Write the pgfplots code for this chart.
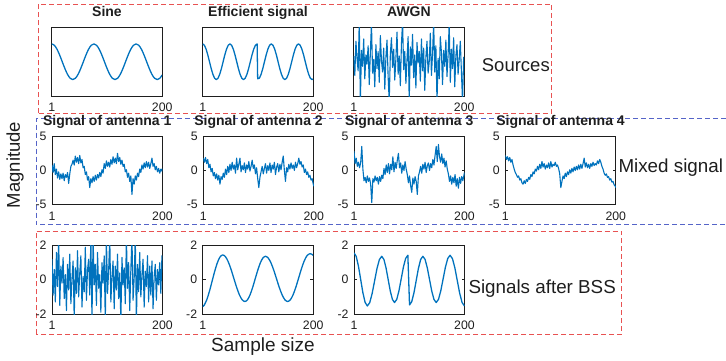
\documentclass[border=0pt]{standalone}
\usepackage{fontspec}
\setmainfont{Liberation Sans}
\usepackage{pgfplots}
\pgfplotsset{compat=1.18}
\definecolor{mblue}{RGB}{0,114,189}
\definecolor{tgray}{RGB}{30,30,30}
\definecolor{boxred}{RGB}{232,82,82}
\definecolor{boxblue}{RGB}{85,100,200}
\pgfplotsset{
  sub/.style={
    width=110.5pt, height=68.5pt, scale only axis,
    xmin=1, xmax=200, xtick={1,200},
    tick align=inside, major tick length=3pt,
    axis line style={tgray, line width=1pt},
    tick style={tgray, line width=0.9pt},
    every tick label/.append style={font=\fontsize{12.3}{12}\selectfont, text=tgray},
    xticklabel style={yshift=-3.5pt},
    yticklabel style={xshift=-2pt},
    /pgf/number format/assume math mode=true,
    title style={at={(0.5,1)}, anchor=base, yshift=5pt, font=\bfseries\fontsize{14}{14}\selectfont, text=tgray},
  },
  row1/.style={sub, ymin=-1.92, ymax=1.92, ytick=\empty},
  row2/.style={sub, ymin=-5, ymax=5, ytick={-5,0,5}},
  row3/.style={sub, ymin=-2, ymax=2, ytick={-2,0,2}},
  sig/.style={mblue, line width=1.3pt, mark=none, line join=round},
  nsig/.style={mblue, line width=1.1pt, mark=none, line join=round},
}
\begin{document}
\begin{tikzpicture}
\useasboundingbox (0,0) rectangle (726pt,360pt);
% dashed group boxes
\draw[boxred, line width=0.9pt, dash pattern=on 5pt off 3pt] (38.3pt,246.7pt) rectangle (551.7pt,356pt);
\draw[boxblue, line width=0.9pt, dash pattern=on 5pt off 3pt] (725.6pt,241.7pt) -- (36pt,241.7pt) -- (36pt,135.7pt) -- (725.6pt,135.7pt);
\draw[boxred, line width=0.9pt, dash pattern=on 5pt off 3pt] (36pt,25.7pt) rectangle (621.7pt,129pt);

% ---------- Row 1: sources ----------
\begin{axis}[row1, at={(51.7pt,264pt)}, anchor=south west, title={Sine}]
\addplot[sig, smooth] coordinates {(1,1) (5.75,0.924) (10.5,0.707) (15.25,0.383) (20,0) (24.75,-0.383) (29.5,-0.707) (34.25,-0.924) (39,-1) (43.75,-0.924) (48.5,-0.707) (53.25,-0.383) (58,0) (62.75,0.383) (67.5,0.707) (72.25,0.924) (77,1) (81.75,0.924) (86.5,0.707) (91.25,0.383) (96,0) (100.75,-0.383) (105.5,-0.707) (110.25,-0.924) (115,-1) (119.75,-0.924) (124.5,-0.707) (129.25,-0.383) (134,0) (138.75,0.383) (143.5,0.707) (148.25,0.924) (153,1) (157.75,0.924) (162.5,0.707) (167.25,0.383) (172,0) (176.75,-0.383) (181.5,-0.707) (186.25,-0.924) (191,-1) (195.75,-0.924) (200,-0.736)};
\end{axis}
\begin{axis}[row1, at={(202.7pt,264pt)}, anchor=south west, title={Efficient signal}]
\addplot[sig] coordinates {(1,1) (4.06,0.924) (7.13,0.707) (10.19,0.383) (13.25,0) (16.31,-0.383) (19.38,-0.707) (22.44,-0.924) (25.5,-1) (28.56,-0.924) (31.63,-0.707) (34.69,-0.383) (37.75,0) (40.81,0.383) (43.88,0.707) (46.94,0.924) (50,1) (53.06,0.924) (56.13,0.707) (59.19,0.383) (62.25,0) (65.31,-0.383) (68.38,-0.707) (71.44,-0.924) (74.5,-1) (77.56,-0.924) (80.63,-0.707) (83.69,-0.383) (86.75,0) (89.81,0.383) (92.88,0.707) (95.94,0.924) (99,1) (100,-0.95) (103.06,-0.924) (106.13,-0.707) (109.19,-0.383) (112.25,0) (115.31,0.383) (118.38,0.707) (121.44,0.924) (124.5,1) (127.56,0.924) (130.63,0.707) (133.69,0.383) (136.75,0) (139.81,-0.383) (142.88,-0.707) (145.94,-0.924) (149,-1) (152.06,-0.924) (155.13,-0.707) (158.19,-0.383) (161.25,0) (164.31,0.383) (167.38,0.707) (170.44,0.924) (173.5,1) (176.56,0.924) (179.63,0.707) (182.69,0.383) (185.75,0) (188.81,-0.383) (191.88,-0.707) (194.94,-0.924) (198,-1) (200,-0.967)};
\end{axis}
\begin{axis}[row1, at={(353.7pt,264pt)}, anchor=south west, title={AWGN}, ymin=-3, ymax=3]
\addplot[nsig] coordinates {(1,0.5) (3,-1.2) (5,1.8) (7,0.3) (9,-0.8) (11,3.5) (13,-3.5) (15,1.0) (17,-0.4) (19,2.0) (21,-1.5) (23,0.6) (25,-0.2) (27,1.4) (29,-2.0) (31,0.8) (33,3.4) (35,-1.0) (37,0.2) (39,-2.2) (41,1.5) (43,-0.6) (45,0.9) (47,-1.8) (49,2.3) (51,0.1) (53,-0.9) (55,1.2) (57,-2.4) (59,0.4) (61,1.9) (63,-1.3) (65,-3.5) (67,0.7) (69,2.1) (71,-0.5) (73,1.1) (75,-1.6) (77,0.3) (79,2.6) (81,-1.1) (83,0.5) (85,-2.1) (87,1.6) (89,3.5) (91,-0.7) (93,0.9) (95,-1.9) (97,0.2) (99,2.2) (101,-3.5) (103,1.3) (105,-0.3) (107,2.4) (109,-1.4) (111,0.6) (113,-2.3) (115,1.7) (117,-0.1) (119,0.9) (121,-1.7) (123,2.0) (125,-0.8) (127,1.2) (129,-2.5) (131,0.4) (133,1.8) (135,-1.0) (137,0.0) (139,2.5) (141,-1.2) (143,0.7) (145,3.5) (147,-0.9) (149,1.4) (151,-3.5) (153,0.3) (155,-1.5) (157,2.2) (159,0.8) (161,-2.0) (163,1.0) (165,-0.4) (167,1.9) (169,-1.3) (171,0.6) (173,3.4) (175,-1.8) (177,1.1) (179,-0.6) (181,2.1) (183,-2.2) (185,0.5) (187,1.5) (189,-1.1) (191,0.2) (193,1.8) (195,-0.9) (197,-3.5) (199,0.4) (200,-1.0)};
\end{axis}

% ---------- Row 2: mixed signals ----------
\begin{axis}[row2, at={(52pt,155.3pt)}, anchor=south west, title={Signal of antenna 1}]
\addplot[nsig] coordinates {(1,0.8) (3,-0.3) (5,1.0) (7,-0.6) (9,0.2) (11,-1.1) (13,-0.2) (15,-1.3) (17,-0.5) (19,-1.2) (21,-0.4) (23,-1.5) (25,-0.6) (27,-1.0) (29,-0.3) (31,-1.9) (33,-0.5) (35,0.6) (37,0.9) (39,1.5) (41,0.8) (43,2.1) (45,1.2) (47,1.9) (49,1.0) (51,2.2) (53,1.1) (55,1.6) (57,0.4) (59,0.6) (61,-0.6) (63,-0.2) (65,-1.4) (67,-0.9) (69,-2.5) (71,-1.2) (73,-1.8) (75,-0.9) (77,-1.6) (79,-0.7) (81,-1.4) (83,-0.6) (85,-1.1) (87,-0.3) (89,-0.9) (91,0.1) (93,-0.4) (95,1.0) (97,0.3) (99,1.4) (101,0.6) (103,1.2) (105,0.5) (107,1.6) (109,0.9) (111,2.0) (113,1.1) (115,1.8) (117,1.0) (119,2.5) (121,1.3) (123,1.9) (125,0.9) (127,1.5) (129,0.6) (131,0.9) (133,-0.2) (135,0.1) (137,-1.0) (139,-0.4) (141,-1.6) (143,-0.8) (145,-3.5) (147,-1.2) (149,-2.0) (151,-0.8) (153,-1.4) (155,-0.4) (157,-0.9) (159,0.2) (161,-0.3) (163,0.8) (165,0.2) (167,1.1) (169,0.4) (171,1.3) (173,0.5) (175,1.2) (177,0.3) (179,1.0) (181,1.8) (183,0.6) (185,1.0) (187,0.1) (189,0.6) (191,-0.2) (193,0.3) (195,-0.4) (197,0.2) (199,-0.1) (200,0.3)};
\end{axis}
\begin{axis}[row2, at={(203.3pt,155.3pt)}, anchor=south west, title={Signal of antenna 2}]
\addplot[nsig] coordinates {(1,1.8) (3,1.2) (5,1.9) (7,1.0) (9,1.6) (11,0.4) (13,0.9) (15,-0.2) (17,0.3) (19,-0.8) (21,-0.3) (23,-1.2) (25,-0.5) (27,-1.4) (29,-0.7) (31,-2.0) (33,-0.9) (35,-1.3) (37,-0.4) (39,-1.0) (41,0.2) (43,-0.6) (45,0.6) (47,-0.3) (49,0.9) (51,0.0) (53,1.2) (55,0.2) (57,0.8) (59,-0.4) (61,1.8) (63,0.1) (65,0.9) (67,1.8) (69,-0.2) (71,0.7) (73,0.1) (75,1.1) (77,-0.3) (79,0.8) (81,0.2) (83,1.3) (85,-0.1) (87,0.6) (89,1.5) (91,0.3) (93,0.8) (95,-0.5) (97,0.4) (99,-1.2) (101,-2.5) (103,-1.0) (105,-0.2) (107,0.6) (109,-0.5) (111,0.3) (113,1.0) (115,-0.4) (117,0.7) (119,0.0) (121,1.1) (123,-0.3) (125,0.8) (127,0.2) (129,1.2) (131,-0.6) (133,0.5) (135,1.0) (137,-0.2) (139,0.9) (141,0.1) (143,1.2) (145,2.1) (147,0.0) (149,-1.6) (151,0.4) (153,-0.2) (155,0.9) (157,0.2) (159,1.1) (161,0.3) (163,0.8) (165,0.0) (167,1.2) (169,0.4) (171,1.0) (173,1.8) (175,0.9) (177,1.3) (179,0.5) (181,0.8) (183,-0.3) (185,0.2) (187,-0.6) (189,-0.2) (191,-1.0) (193,-0.7) (195,-1.4) (197,-1.2) (199,-2.0) (200,-2.3)};
\end{axis}
\begin{axis}[row2, at={(354pt,155.3pt)}, anchor=south west, title={Signal of antenna 3}]
\addplot[nsig] coordinates {(1,2.8) (3,1.0) (5,1.8) (7,0.6) (9,1.2) (11,0.4) (13,1.1) (15,3.5) (17,0.2) (19,-1.5) (21,-1.0) (23,-1.8) (25,-0.8) (27,-1.6) (29,-1.1) (31,-2.0) (33,-4.7) (35,-1.2) (37,-1.7) (39,-0.8) (41,-1.5) (43,-1.0) (45,-2.0) (47,-0.9) (49,-1.6) (51,-0.7) (53,-1.2) (55,0.3) (57,-0.6) (59,0.8) (61,-0.3) (63,1.0) (65,-0.5) (67,0.9) (69,0.1) (71,2.0) (73,-0.2) (75,1.2) (77,0.3) (79,1.5) (81,2.5) (83,0.4) (85,1.1) (87,-0.4) (89,0.8) (91,0.0) (93,1.3) (95,0.2) (97,-0.6) (99,-1.8) (101,-0.8) (103,-2.2) (105,-3.2) (107,-1.1) (109,-2.0) (111,-0.9) (113,-1.6) (115,-3.5) (117,-0.8) (119,-0.2) (121,0.6) (123,-0.4) (125,0.9) (127,0.2) (129,1.2) (131,-0.3) (133,0.7) (135,1.1) (137,0.0) (139,1.0) (141,0.4) (143,1.6) (145,0.8) (147,2.2) (149,3.5) (151,1.3) (153,3.8) (155,2.0) (157,1.2) (159,2.4) (161,1.0) (163,1.8) (165,0.5) (167,1.4) (169,0.2) (171,-0.5) (173,-1.6) (175,-0.8) (177,-2.0) (179,-1.0) (181,-1.8) (183,-0.6) (185,-2.3) (187,-1.2) (189,-2.6) (191,-1.0) (193,-1.9) (195,-0.9) (197,-1.5) (199,-0.7) (200,-0.3)};
\end{axis}
\begin{axis}[row2, at={(505.3pt,155.3pt)}, anchor=south west, title={Signal of antenna 4}]
\addplot[nsig] coordinates {(1,2.2) (3,1.6) (5,2.0) (7,1.4) (9,1.9) (11,1.2) (13,1.6) (15,0.8) (17,0.2) (19,-0.3) (21,-0.6) (23,-1.0) (25,-0.8) (27,-1.4) (29,-1.2) (31,-1.8) (33,-2.0) (35,-1.5) (37,-1.9) (39,-1.3) (41,-1.6) (43,-1.0) (45,-1.3) (47,-0.6) (49,-0.9) (51,-0.2) (53,-0.5) (55,0.2) (57,-0.1) (59,0.6) (61,0.1) (63,0.9) (65,0.3) (67,1.3) (69,0.5) (71,1.0) (73,0.2) (75,0.8) (77,0.4) (79,1.1) (81,0.3) (83,1.3) (85,0.5) (87,0.9) (89,0.7) (91,1.2) (93,0.6) (95,0.8) (97,0.3) (99,-0.5) (101,-2.5) (103,-1.6) (105,-0.8) (107,-1.2) (109,-0.4) (111,-0.9) (113,-0.2) (115,-0.6) (117,0.1) (119,-0.4) (121,0.3) (123,-0.2) (125,0.5) (127,0.0) (129,0.6) (131,0.1) (133,0.8) (135,0.2) (137,0.9) (139,0.3) (141,1.0) (143,1.8) (145,0.5) (147,1.1) (149,0.4) (151,0.9) (153,0.3) (155,1.0) (157,0.6) (159,1.2) (161,0.7) (163,1.0) (165,0.8) (167,1.4) (169,1.0) (171,1.6) (173,1.2) (175,0.6) (177,0.2) (179,-0.4) (181,-0.7) (183,-0.5) (185,-1.0) (187,-0.9) (189,-1.4) (191,-1.2) (193,-1.7) (195,-1.6) (197,-2.1) (199,-2.3) (200,-2.5)};
\end{axis}

% ---------- Row 3: signals after BSS ----------
\begin{axis}[row3, at={(52pt,46pt)}, anchor=south west]
\addplot[nsig] coordinates {(1,1.2) (3,-0.9) (5,0.6) (7,-1.3) (9,1.6) (11,-0.4) (13,2.5) (15,-1.5) (17,0.8) (19,-0.2) (21,1.3) (23,-1.1) (25,0.3) (27,-1.8) (29,0.9) (31,-0.6) (33,1.5) (35,-1.4) (37,0.1) (39,1.1) (41,-2.3) (43,0.7) (45,-0.8) (47,1.7) (49,-1.0) (51,0.4) (53,1.4) (55,-1.6) (57,0.2) (59,-0.7) (61,1.9) (63,-1.2) (65,0.6) (67,1.2) (69,-0.9) (71,2.5) (73,-2.4) (75,2.5) (77,-0.3) (79,0.9) (81,-1.5) (83,1.6) (85,-0.5) (87,0.3) (89,-1.9) (91,1.0) (93,-0.2) (95,1.4) (97,-2.5) (99,2.5) (101,-0.8) (103,0.5) (105,2.5) (107,-1.3) (109,0.2) (111,1.1) (113,-1.7) (115,0.8) (117,-0.6) (119,1.5) (121,-1.1) (123,0.4) (125,-2.5) (127,1.3) (129,-0.3) (131,0.7) (133,-1.4) (135,2.5) (137,-0.5) (139,1.0) (141,-1.8) (143,0.6) (145,2.5) (147,-1.2) (149,0.1) (151,2.5) (153,-2.5) (155,0.9) (157,-0.7) (159,1.6) (161,-1.0) (163,0.3) (165,1.2) (167,-1.6) (169,0.5) (171,-0.4) (173,1.4) (175,-1.3) (177,0.8) (179,-0.9) (181,1.1) (183,-1.7) (185,0.2) (187,0.9) (189,-1.2) (191,0.6) (193,-0.3) (195,1.0) (197,-0.8) (199,1.4) (200,0.6)};
\end{axis}
\begin{axis}[row3, at={(202.7pt,46pt)}, anchor=south west]
\addplot[sig, smooth] coordinates {(1,-1.56) (3.75,-1.484) (8.5,-1.153) (13.25,-0.659) (18,-0.075) (22.75,0.509) (27.5,1.003) (32.25,1.334) (37,1.45) (42,1.347) (47,1.052) (52,0.61) (57,0.09) (62,-0.43) (67,-0.872) (72,-1.167) (77,-1.27) (81.63,-1.17) (86.25,-0.883) (90.88,-0.455) (95.5,0.05) (100.13,0.555) (104.75,0.983) (109.38,1.27) (114,1.37) (119,1.27) (124,0.983) (129,0.555) (134,0.05) (139,-0.455) (144,-0.883) (149,-1.17) (154,-1.27) (159,-1.164) (164,-0.861) (169,-0.409) (174,0.125) (179,0.659) (184,1.111) (189,1.414) (194,1.52) (197,1.5) (200,1.42)};
\end{axis}
\begin{axis}[row3, at={(354pt,46pt)}, anchor=south west]
\addplot[sig] coordinates {(1,1.57) (5,1.362) (9,0.795) (13,0.02) (17,-0.755) (21,-1.322) (25,-1.53) (29.33,-1.336) (33.67,-0.805) (38,-0.08) (42.33,0.645) (46.67,1.176) (51,1.37) (54.83,1.189) (58.67,0.695) (62.5,0.02) (66.33,-0.655) (70.17,-1.149) (74,-1.33) (78,-1.145) (82,-0.64) (86,0.05) (90,0.74) (94,1.245) (98,1.43) (101,-1.47) (105,-1.28) (109,-0.76) (113,-0.05) (117,0.66) (121,1.18) (125,1.37) (129,1.189) (133,0.695) (137,0.02) (141,-0.655) (145,-1.149) (149,-1.33) (153.17,-1.145) (157.33,-0.64) (161.5,0.05) (165.67,0.74) (169.83,1.245) (174,1.43) (178.33,1.232) (182.67,0.69) (187,-0.05) (191.33,-0.79) (195.67,-1.332) (200,-1.53)};
\end{axis}

% ---------- labels ----------
\node[anchor=base west, inner sep=0, text=tgray, font=\fontsize{18.5}{20}\selectfont] at (481.7pt,289pt) {Sources};
\node[anchor=base west, inner sep=0, text=tgray, font=\fontsize{18.8}{20}\selectfont] at (618.3pt,187.3pt) {Mixed signal};
\node[anchor=base west, inner sep=0, text=tgray, font=\fontsize{18.8}{20}\selectfont] at (468.3pt,66.7pt) {Signals after BSS};
\node[anchor=base west, inner sep=0, text=tgray, font=\fontsize{19}{20}\selectfont] at (211pt,8.3pt) {Sample size};
\node[anchor=base, inner sep=0, rotate=90, text=tgray, font=\fontsize{18.5}{20}\selectfont] at (19.9pt,195pt) {Magnitude};
\end{tikzpicture}
\end{document}
